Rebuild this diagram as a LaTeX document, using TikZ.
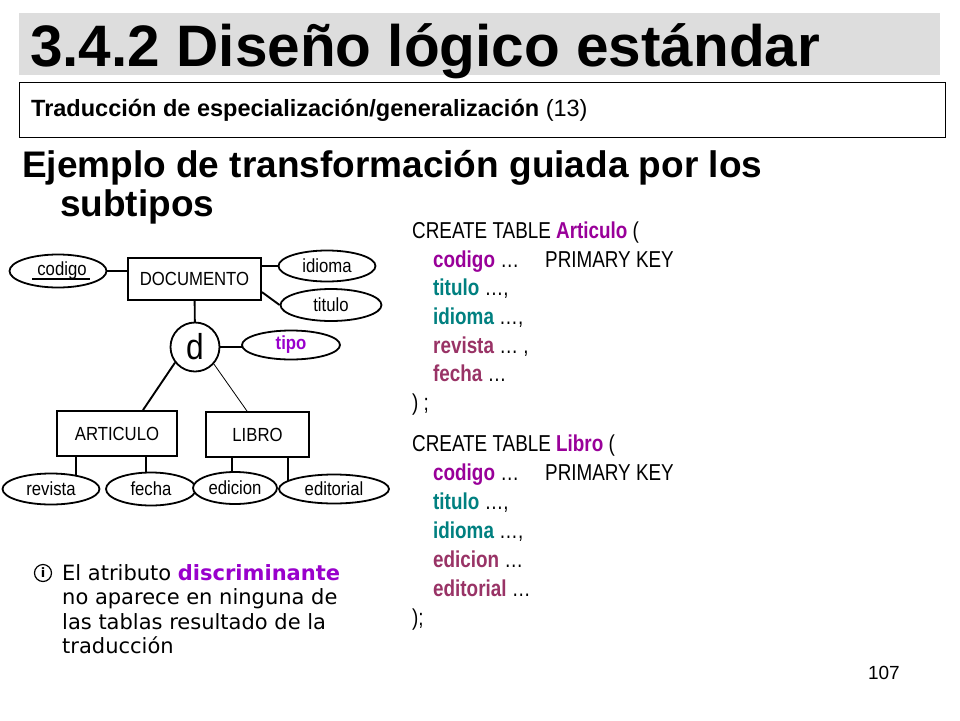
\documentclass[tikz,border=0pt]{standalone}
\usepackage{fontspec}
\setmainfont{Liberation Sans}
\newfontfamily\sqlf[FakeStretch=0.82]{Liberation Sans}
\newfontfamily\diagf[FakeStretch=0.88]{Liberation Sans}
\newfontfamily\notef{DejaVu Sans}
\usetikzlibrary{calc,backgrounds,shapes.geometric}
\definecolor{cpurple}{RGB}{153,0,153}
\definecolor{cteal}{RGB}{0,128,128}
\definecolor{cmaroon}{RGB}{153,51,102}
\definecolor{cviolet}{RGB}{153,0,204}
\definecolor{cgray}{RGB}{221,221,221}
\begin{document}
\begin{tikzpicture}[x=1pt,y=-1pt,
  entity/.style={draw,line width=1.9pt,fill=white,inner sep=0pt,font=\diagf\fontsize{19}{21}\selectfont},
  attr/.style={ellipse,draw,line width=1.8pt,fill=white,inner sep=0pt,font=\diagf\fontsize{19}{21}\selectfont},
  conn/.style={line width=1.9pt},
  thinconn/.style={line width=0.8pt},
  txt/.style={anchor=base west,inner sep=0pt},
  sql/.style={txt,font=\sqlf\fontsize{23}{25}\selectfont},
  note/.style={txt,font=\notef\fontsize{21}{24}\selectfont},
  ]
\useasboundingbox (0,0) rectangle (960,720);
% title band
\fill[cgray] (19,12.5) rectangle (940,75);
\node[txt,font=\bfseries\fontsize{58.5}{60}\selectfont] (title) at (30,66.5) {3.4.2 Diseño lógico estándar};
% subtitle box
\draw[line width=1pt] (19.5,82) rectangle (945,137);
\node[txt,font=\fontsize{23.5}{26}\selectfont] (sub) at (31,116.5) {\textbf{Traducción de especialización/generalización} (13)};
% heading
\node[txt,font=\bfseries\fontsize{37}{40}\selectfont] (h1) at (22,177) {Ejemplo de transformación guiada por los};
\node[txt,font=\bfseries\fontsize{37}{40}\selectfont] (h2) at (60,216) {subtipos};

% ER diagram
\node[entity,minimum width=133pt,minimum height=42pt] (doc) at (194.5,279) {DOCUMENTO};
\node[attr,minimum width=97pt,minimum height=33pt] (codigo) at (58,271) {\hspace{8pt}codigo};
\node[attr,minimum width=97pt,minimum height=31pt] (idioma) at (327,266) {idioma};
\node[attr,minimum width=101pt,minimum height=32pt] (titulo) at (331,305) {titulo};
\node[circle,draw,line width=1.8pt,fill=white,inner sep=0pt,minimum size=49pt,font=\diagf\fontsize{36}{38}\selectfont] (d) at (195,347) {d};
\node[attr,minimum width=98pt,minimum height=29pt,text=cviolet,font=\diagf\bfseries\fontsize{19}{21}\selectfont] (tipo) at (291,345) {tipo};
\node[entity,minimum width=120pt,minimum height=45pt] (articulo) at (117,433.5) {ARTICULO};
\node[entity,minimum width=103pt,minimum height=45pt] (libro) at (257.5,434.5) {LIBRO};
\node[attr,minimum width=97pt,minimum height=31pt] (revista) at (51,489) {revista};
\node[attr,minimum width=90pt,minimum height=33pt] (fecha) at (151,489) {fecha};
\node[attr,minimum width=84pt,minimum height=32pt] (edicion) at (235,488) {edicion};
\node[attr,minimum width=110pt,minimum height=29pt] (editorial) at (334,489) {editorial};
% key underline
\draw[line width=1.3pt] ($(codigo.center)+(-26,8)$) -- ($(codigo.center)+(32,8)$);

\begin{scope}[on background layer]
\fill[white] (0,0) rectangle (960,720);
\draw[conn] (codigo.center) -- (codigo.center -| doc.center);
\draw[conn] (idioma.center -| doc.center) -- (idioma.center);
\draw[conn] (doc.-11) -- (titulo.west);
\draw[conn] (doc.center) -- (d.center);
\draw[conn] (d.center) -- (d.center -| tipo.center);
\draw[conn] (d.-142) -- ([xshift=26pt]articulo.north);
\draw[thinconn] (d.-42) -- ([xshift=-10.5pt]libro.north);
\draw[conn] ([xshift=20pt]articulo.south west) -- ([xshift=20pt]articulo.south west |- revista.center);
\draw[conn] ([xshift=90pt]articulo.south west) -- ([xshift=90pt]articulo.south west |- fecha.center);
\draw[conn] ([xshift=27pt]libro.south west) -- ([xshift=27pt]libro.south west |- edicion.center);
\draw[conn] ([xshift=83pt]libro.south west) -- ([xshift=83pt]libro.south west |- editorial.center);
\end{scope}

% SQL block 1
\node[sql] (a0) at (412,238) {CREATE TABLE \textbf{\color{cpurple}Articulo} (};
\node[sql] (a1) at (433,267) {\textbf{\color{cpurple}codigo} …};
\node[sql] (a1k) at (545,267) {PRIMARY KEY};
\node[sql] (a2) at (433,295.5) {\textbf{\color{cteal}titulo} …,};
\node[sql] (a3) at (433,324) {\textbf{\color{cteal}idioma} …,};
\node[sql] (a4) at (433,353) {\textbf{\color{cmaroon}revista} … ,};
\node[sql] (a5) at (433,381.5) {\textbf{\color{cmaroon}fecha} …};
\node[sql] (a6) at (412,410) {) ;};
% SQL block 2
\node[sql] (b0) at (412,451) {CREATE TABLE \textbf{\color{cpurple}Libro} (};
\node[sql] (b1) at (433,480) {\textbf{\color{cpurple}codigo} …};
\node[sql] (b1k) at (545,480) {PRIMARY KEY};
\node[sql] (b2) at (433,509) {\textbf{\color{cteal}titulo} …,};
\node[sql] (b3) at (433,538) {\textbf{\color{cteal}idioma} …,};
\node[sql] (b4) at (433,567) {\textbf{\color{cmaroon}edicion} …};
\node[sql] (b5) at (433,596) {\textbf{\color{cmaroon}editorial} …};
\node[sql] (b6) at (412,625) {);};

% note
\node[circle,draw,line width=1.2pt,inner sep=0pt,minimum size=17pt,font=\notef\bfseries\fontsize{13}{14}\selectfont] (icon) at (43,573) {i};
\node[note] (n1) at (62,580) {El atributo \textbf{\color{cviolet}discriminante}};
\node[note] (n2) at (62,604.5) {no aparece en ninguna de};
\node[note] (n3) at (62,629) {las tablas resultado de la};
\node[note] (n4) at (62,653.5) {traducción};

% page number
\node[anchor=base east,inner sep=0pt,font=\fontsize{19}{21}\selectfont] (pg) at (900,679) {107};
\end{tikzpicture}
\end{document}
